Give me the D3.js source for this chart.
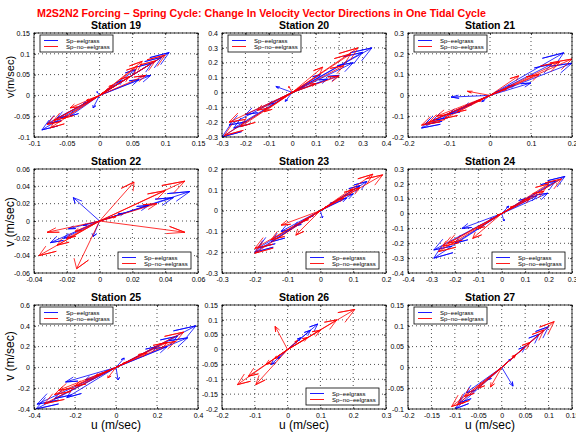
<!DOCTYPE html>
<html>
<head>
<meta charset="utf-8">
<script src="https://cdn.jsdelivr.net/npm/d3@7"></script>
<style>
body{margin:0;background:#fff;}
svg{display:block;font-family:"Liberation Sans",Arial,sans-serif;}
</style>
</head>
<body>
<svg id="fig" width="576" height="433"></svg>
<script>
// ---- data ----
var stationNames = ["Station 19","Station 20","Station 21","Station 22","Station 23","Station 24","Station 25","Station 26","Station 27"];
var seriesNames = ["Sp\u2212eelgrass","Sp\u2212no\u2212eelgrass"];
var seriesColors = ["#0000ff","#ff0000"];

var xDomains = [[-0.1,0.15],[-0.3,0.4],[-0.2,0.2],[-0.04,0.06],[-0.3,0.2],[-0.4,0.3],[-0.4,0.4],[-0.2,0.3],[-0.2,0.15]];
var yDomains = [[-0.1,0.15],[-0.3,0.4],[-0.2,0.3],[-0.06,0.06],[-0.3,0.2],[-0.4,0.3],[-0.4,0.6],[-0.2,0.15],[-0.1,0.15]];

var xTickValues = [
  [-0.1,-0.05,0,0.05,0.1,0.15],
  [-0.3,-0.2,-0.1,0,0.1,0.2,0.3,0.4],
  [-0.2,-0.1,0,0.1,0.2],
  [-0.04,-0.02,0,0.02,0.04,0.06],
  [-0.3,-0.2,-0.1,0,0.1,0.2],
  [-0.4,-0.3,-0.2,-0.1,0,0.1,0.2,0.3],
  [-0.4,-0.2,0,0.2,0.4],
  [-0.2,-0.1,0,0.1,0.2,0.3],
  [-0.2,-0.15,-0.1,-0.05,0,0.05,0.1,0.15]
];
var yTickValues = [
  [-0.1,-0.05,0,0.05,0.1,0.15],
  [-0.3,-0.2,-0.1,0,0.1,0.2,0.3,0.4],
  [-0.2,-0.1,0,0.1,0.2,0.3],
  [-0.06,-0.04,-0.02,0,0.02,0.04,0.06],
  [-0.3,-0.2,-0.1,0,0.1,0.2],
  [-0.4,-0.3,-0.2,-0.1,0,0.1,0.2,0.3],
  [-0.4,-0.2,0,0.2,0.4,0.6],
  [-0.2,-0.15,-0.1,-0.05,0,0.05,0.1,0.15],
  [-0.1,-0.05,0,0.05,0.1,0.15]
];

// velocity vectors (u, v) over one tidal cycle, with eelgrass
var blueVectors = [
  [[0.106,0.103],[0.095,0.092],[0.08,0.078],[0.078,0.048],[0.06,0.038],[0.055,0.062],[0.035,0.035],[0.015,0.016],[-0.004,0.009],[-0.01,-0.03],[-0.025,-0.02],[-0.045,-0.05],[-0.065,-0.055],[-0.08,-0.068],[-0.088,-0.083]],
  [[0.34,0.3],[0.3,0.27],[0.26,0.2],[0.2,0.115],[0.15,0.09],[0.12,0.12],[0.05,0.04],[-0.07,0.04],[-0.03,-0.06],[-0.1,-0.08],[-0.2,-0.15],[-0.27,-0.22],[-0.3,-0.3],[-0.25,-0.24]],
  [[0.18,0.205],[0.2,0.155],[0.15,0.15],[0.1,0.06],[0.06,0.05],[0.02,0.02],[-0.095,-0.008],[-0.02,-0.03],[-0.06,-0.05],[-0.1,-0.09],[-0.14,-0.12],[-0.167,-0.157],[-0.16,-0.14]],
  [[0.055,0.034],[0.045,0.027],[0.03,0.018],[0.015,0.009],[-0.016,0.027],[-0.004,-0.018],[-0.01,-0.005],[-0.019,-0.009],[-0.022,-0.02],[-0.03,-0.025]],
  [[0.142,0.14],[0.12,0.12],[0.1,0.08],[0.08,0.06],[0.04,0.04],[0.006,-0.035],[-0.03,-0.03],[-0.08,-0.075],[-0.12,-0.1],[-0.15,-0.15],[-0.19,-0.18],[-0.2,-0.2]],
  [[0.27,0.25],[0.23,0.22],[0.197,0.137],[0.15,0.12],[0.1,0.1],[0.03,0.05],[0.01,-0.05],[-0.05,-0.04],[-0.17,-0.1],[-0.2,-0.2],[-0.29,-0.245],[-0.29,-0.3]],
  [[0.39,0.4],[0.35,0.285],[0.3,0.3],[0.25,0.2],[0.2,0.2],[0.04,0.09],[0.01,-0.12],[-0.05,-0.04],[-0.15,-0.12],[-0.246,-0.14],[-0.24,-0.29],[-0.3,-0.3],[-0.385,-0.354],[-0.39,-0.4]],
  [[0.092,0.086],[0.07,0.065],[0.04,0.04],[-0.05,-0.05],[-0.03,-0.03]],
  [[0.1,0.098],[0.08,0.08],[0.05,0.05],[0.02,0.02],[0.024,-0.045],[-0.03,-0.03],[-0.076,-0.061],[-0.09,-0.085],[-0.098,-0.099]]
];
// velocity vectors (u, v) over one tidal cycle, no eelgrass
var redVectors = [
  [[0.065,0.082],[0.058,0.07],[0.1,0.097],[0.085,0.083],[0.07,0.048],[0.045,0.045],[0.02,0.025],[0.005,0.006],[-0.045,-0.03],[-0.02,-0.012],[-0.055,-0.055],[-0.07,-0.06],[-0.08,-0.07],[-0.075,-0.078]],
  [[0.28,0.3],[0.25,0.26],[0.22,0.18],[0.2,0.11],[0.13,0.17],[0.1,0.06],[0.03,0.03],[-0.015,0.04],[-0.05,-0.04],[-0.15,-0.12],[-0.27,-0.2],[-0.29,-0.29],[-0.22,-0.23],[-0.12,-0.13]],
  [[0.2,0.175],[0.17,0.16],[0.07,0.094],[0.12,0.1],[0.04,0.03],[-0.055,0.02],[-0.03,-0.03],[-0.08,-0.08],[-0.13,-0.1],[-0.167,-0.143],[-0.15,-0.13],[-0.11,-0.11]],
  [[0.052,0.046],[0.04,0.035],[0.021,0.045],[0.052,-0.013],[0.035,0.02],[0.01,0.005],[-0.032,-0.013],[-0.037,-0.04],[-0.014,-0.055],[-0.026,-0.028],[-0.015,-0.012],[-0.02,-0.02]],
  [[0.19,0.172],[0.16,0.175],[0.12,0.11],[0.1,0.1],[0.07,0.06],[0.02,0.02],[-0.12,-0.07],[-0.075,-0.118],[-0.05,-0.05],[-0.15,-0.14],[-0.2,-0.182],[-0.2,-0.205]],
  [[0.255,0.233],[0.2,0.2],[0.18,0.15],[0.12,0.1],[0.05,0.05],[-0.02,-0.01],[-0.1,-0.1],[-0.124,-0.167],[-0.23,-0.2],[-0.27,-0.256],[-0.25,-0.22]],
  [[0.33,0.34],[0.29,0.25],[0.25,0.24],[0.15,0.14],[0.05,0.05],[-0.04,-0.1],[-0.1,-0.08],[-0.2,-0.18],[-0.28,-0.22],[-0.35,-0.35],[-0.3,-0.26]],
  [[0.205,0.135],[0.15,0.1],[0.1,0.065],[0.06,0.04],[-0.038,0.078],[-0.153,-0.118],[-0.12,-0.09],[-0.097,-0.118],[-0.066,-0.05],[-0.04,-0.03],[0.03,0.03]],
  [[0.112,0.11],[0.09,0.09],[0.06,0.06],[0.03,0.03],[-0.024,-0.047],[-0.05,-0.05],[-0.08,-0.07],[-0.107,-0.094],[-0.095,-0.09]]
];

// ---- layout ----
var colLeft = [34, 222, 408], rowTop = [33, 169, 305];
var panelW = 164, panelH = 104;
var legendCorner = ["nw","nw","nw","se","se","se","nw","se","nw"];
var yLabelText = ["v(m/sec)","v (m/sec)","v (m/sec)"];
var yLabelMid = [77, 222, 356];

var svg = d3.select("#fig");
svg.append("rect").attr("width",576).attr("height",433).attr("fill","#fff");

svg.append("text")
  .attr("x",37).attr("y",16.5)
  .attr("fill","#ff0000")
  .attr("font-size","10.7px").attr("font-weight","bold")
  .attr("textLength",449).attr("lengthAdjust","spacingAndGlyphs")
  .text("M2S2N2 Forcing \u2013 Spring Cycle: Change In Velocity Vector Directions in One Tidal Cycle");

var fmt = function(d){ return String(Math.round(d*1000)/1000); };

// compass-style arrow: origin -> tip, barbs back to 0.8 of length
function arrowPath(d, x, y){
  var u = d[0], v = d[1];
  var pts = [[0,0],[u,v],[0.8*u-0.08*v,0.8*v+0.08*u],[u,v],[0.8*u+0.08*v,0.8*v-0.08*u]];
  return d3.line().x(function(p){ return x(p[0]); }).y(function(p){ return y(p[1]); })(pts);
}

function styleAxis(sel){
  sel.attr("font-family","Liberation Sans, Arial, sans-serif").attr("font-size",7);
  sel.select(".domain").remove();
  sel.selectAll("line").attr("stroke","#000").attr("stroke-width",0.7);
  sel.selectAll("text").attr("fill","#000");
}

stationNames.forEach(function(name, i){
  var col = i % 3, row = Math.floor(i / 3);
  var g = svg.append("g").attr("transform","translate("+colLeft[col]+","+rowTop[row]+")");
  var x = d3.scaleLinear().domain(xDomains[i]).range([0,panelW]);
  var y = d3.scaleLinear().domain(yDomains[i]).range([panelH,0]);

  g.append("clipPath").attr("id","clip"+i)
    .append("rect").attr("width",panelW).attr("height",panelH);

  // dotted grid
  g.append("g").selectAll("line").data(xTickValues[i]).enter().append("line")
    .attr("x1",function(d){ return x(d); }).attr("x2",function(d){ return x(d); })
    .attr("y1",0).attr("y2",panelH)
    .attr("stroke","#000").attr("stroke-width",0.7).attr("stroke-dasharray","1,3");
  g.append("g").selectAll("line").data(yTickValues[i]).enter().append("line")
    .attr("y1",function(d){ return y(d); }).attr("y2",function(d){ return y(d); })
    .attr("x1",0).attr("x2",panelW)
    .attr("stroke","#000").attr("stroke-width",0.7).attr("stroke-dasharray","1,3");

  // axes, ticks pointing inward
  g.append("g").attr("transform","translate(0,"+panelH+")")
    .call(d3.axisBottom(x).tickValues(xTickValues[i]).tickSize(-2).tickSizeOuter(0).tickPadding(4).tickFormat(fmt))
    .call(styleAxis);
  g.append("g")
    .call(d3.axisLeft(y).tickValues(yTickValues[i]).tickSize(-2).tickSizeOuter(0).tickPadding(4).tickFormat(fmt))
    .call(styleAxis);
  g.append("g")
    .call(d3.axisTop(x).tickValues(xTickValues[i]).tickSize(-2).tickSizeOuter(0).tickFormat(""))
    .call(styleAxis);
  g.append("g").attr("transform","translate("+panelW+",0)")
    .call(d3.axisRight(y).tickValues(yTickValues[i]).tickSize(-2).tickSizeOuter(0).tickFormat(""))
    .call(styleAxis);

  // vectors
  var plot = g.append("g").attr("clip-path","url(#clip"+i+")");
  [blueVectors[i], redVectors[i]].forEach(function(vecs, s){
    plot.append("g").selectAll("path").data(vecs).enter().append("path")
      .attr("d",function(d){ return arrowPath(d, x, y); })
      .attr("fill","none")
      .attr("stroke",seriesColors[s])
      .attr("stroke-width",0.8)
      .attr("stroke-linejoin","miter");
  });

  g.append("rect").attr("width",panelW).attr("height",panelH)
    .attr("fill","none").attr("stroke","#000").attr("stroke-width",0.8);

  // station title
  g.append("text")
    .attr("x",panelW/2).attr("y",-4)
    .attr("text-anchor","middle")
    .attr("font-size","10.5px").attr("font-weight","bold")
    .text(name);

  // legend
  var legW = 73, legH = 17;
  var lx = legendCorner[i] == "nw" ? 6 : panelW - 7 - legW;
  var ly = legendCorner[i] == "nw" ? 2 : panelH - 4 - legH;
  var leg = g.append("g").attr("transform","translate("+lx+","+ly+")");
  leg.append("rect").attr("width",legW).attr("height",legH)
    .attr("fill","#fff").attr("stroke","#000").attr("stroke-width",0.8);
  var item = leg.selectAll("g").data(seriesNames).enter().append("g")
    .attr("transform",function(d, k){ return "translate(0,"+(5.5 + k*6)+")"; });
  item.append("line")
    .attr("x1",4).attr("x2",18).attr("y1",0).attr("y2",0)
    .attr("stroke",function(d, k){ return seriesColors[k]; }).attr("stroke-width",0.9);
  item.append("text")
    .attr("x",26).attr("y",2)
    .attr("font-size","6px").attr("fill","#000")
    .text(function(d){ return d; });

  // axis labels
  if (col == 0) {
    svg.append("text")
      .attr("transform","translate(14,"+yLabelMid[row]+") rotate(-90)")
      .attr("text-anchor","middle")
      .attr("font-size", row == 0 ? "11px" : "12px")
      .text(yLabelText[row]);
  }
  if (row == 2) {
    svg.append("text")
      .attr("x",colLeft[col] + panelW/2).attr("y",429)
      .attr("text-anchor","middle")
      .attr("font-size","12px")
      .text("u (m/sec)");
  }
});
</script>
</body>
</html>
